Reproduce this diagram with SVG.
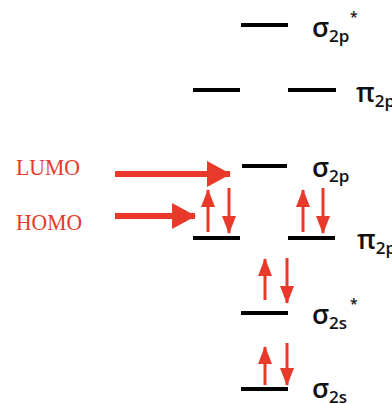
<svg xmlns="http://www.w3.org/2000/svg" width="392" height="404" viewBox="0 0 392 404">
<defs>
<style>
.lvl{stroke:#000;stroke-width:4;fill:none}
.lbl{font-family:"Open Sans","DejaVu Sans",sans-serif;font-size:27px;font-weight:600;fill:#111}
.sub{font-size:17px}
.sup{font-size:14px}
.el{stroke:#e8392a;stroke-width:3;fill:none}
.big{stroke:#e8392a;stroke-width:6;fill:none}
.tag{font-family:"Liberation Serif",serif;font-size:24px;fill:#e8392a}
</style>
<marker id="eh" viewBox="0 0 18 14" refX="17" refY="7" markerWidth="18" markerHeight="14" markerUnits="userSpaceOnUse" orient="auto"><path d="M0,0 L18,7 L0,14 z" fill="#e8392a"/></marker>
<marker id="bh" viewBox="0 0 24 26" refX="23" refY="13" markerWidth="24" markerHeight="26" markerUnits="userSpaceOnUse" orient="auto"><path d="M0,0 L24,13 L0,26 z" fill="#e8392a"/></marker>
</defs>
<g id="sigma2p-star">
<line class="lvl" x1="241" y1="25" x2="288" y2="25"/>
<text class="lbl" x="312" y="37">σ<tspan class="sub" dy="5">2p</tspan></text>
<text class="lbl sup" x="350" y="22">*</text>
</g>
<g id="pi2p-star">
<line class="lvl" x1="193" y1="90" x2="240" y2="90"/>
<line class="lvl" x1="288" y1="90" x2="336" y2="90"/>
<text class="lbl" x="356" y="102">π<tspan class="sub" dy="5">2p</tspan></text>
</g>
<g id="sigma2p">
<line class="lvl" x1="242" y1="166" x2="287" y2="166"/>
<text class="lbl" x="312" y="177">σ<tspan class="sub" dy="5">2p</tspan></text>
</g>
<g id="pi2p">
<line class="lvl" x1="193" y1="238" x2="240" y2="238"/>
<line class="lvl" x1="288" y1="238" x2="335" y2="238"/>
<text class="lbl" x="357" y="249">π<tspan class="sub" dy="5">2p</tspan></text>
<line class="el" x1="208" y1="232" x2="208" y2="190" marker-end="url(#eh)"/>
<line class="el" x1="229" y1="188" x2="229" y2="233" marker-end="url(#eh)"/>
<line class="el" x1="303" y1="232" x2="303" y2="190" marker-end="url(#eh)"/>
<line class="el" x1="323" y1="188" x2="323" y2="233" marker-end="url(#eh)"/>
</g>
<g id="sigma2s-star">
<line class="lvl" x1="241" y1="313" x2="288" y2="313"/>
<text class="lbl" x="312" y="324">σ<tspan class="sub" dy="5">2s</tspan></text>
<text class="lbl sup" x="350" y="309">*</text>
<line class="el" x1="265" y1="300" x2="265" y2="259" marker-end="url(#eh)"/>
<line class="el" x1="287" y1="258" x2="287" y2="303" marker-end="url(#eh)"/>
</g>
<g id="sigma2s">
<line class="lvl" x1="241" y1="389" x2="288" y2="389"/>
<text class="lbl" x="312" y="398">σ<tspan class="sub" dy="5">2s</tspan></text>
<line class="el" x1="265" y1="385" x2="265" y2="347" marker-end="url(#eh)"/>
<line class="el" x1="287" y1="343" x2="287" y2="385" marker-end="url(#eh)"/>
</g>
<g id="lumo">
<text class="tag" x="16" y="175" textLength="64" lengthAdjust="spacingAndGlyphs">LUMO</text>
</g>
<g id="homo">
<text class="tag" x="16" y="230" textLength="66" lengthAdjust="spacingAndGlyphs">HOMO</text>
</g>
<g id="connectors">
<line class="big" x1="115" y1="174" x2="230" y2="174" marker-end="url(#bh)"/>
<line class="big" x1="115" y1="216" x2="195" y2="216" marker-end="url(#bh)"/>
</g>
</svg>
